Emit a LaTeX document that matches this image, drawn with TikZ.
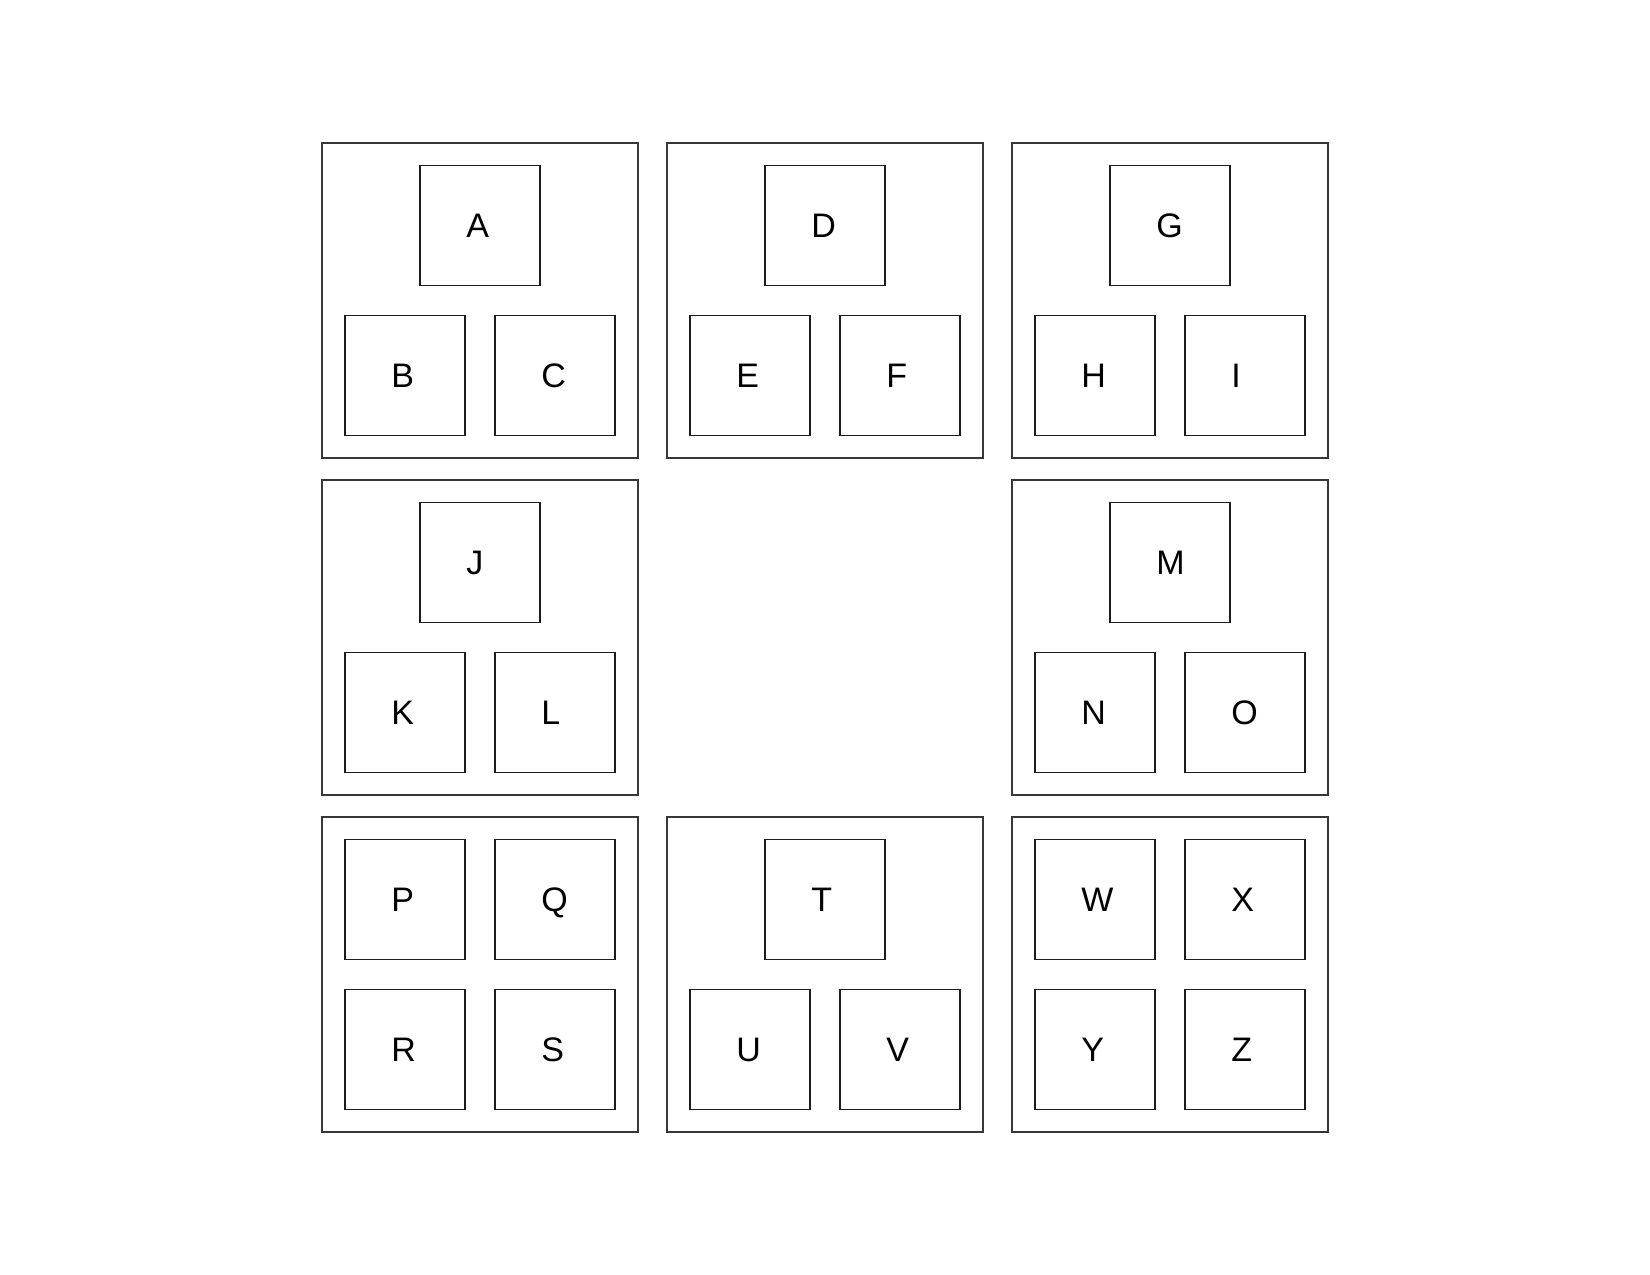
\documentclass[tikz,border=0pt]{standalone}
\usepackage{fontspec}
\setmainfont{Liberation Sans}
\begin{document}
\begin{tikzpicture}[x=1pt,y=-1pt,
  outerbox/.style={draw={rgb,255:red,55;green,55;blue,55},line width=1.8pt,minimum width=316pt,minimum height=315pt,inner sep=0pt},
  innerbox/.style={draw={rgb,255:red,28;green,28;blue,28},line width=1.5pt,minimum size=120pt,inner sep=0pt,font=\fontsize{34}{40}\selectfont,
    text width=27.4pt,align=left,text height=24.4pt,text depth=0pt}]
\useasboundingbox[fill=white] (0,0) rectangle (1650,1275);
% outer boxes
\node[outerbox] (g1) at (480,300.5) {};
\node[outerbox] (g2) at (825,300.5) {};
\node[outerbox] (g3) at (1170,300.5) {};
\node[outerbox] (g4) at (480,637.5) {};
\node[outerbox] (g6) at (1170,637.5) {};
\node[outerbox] (g7) at (480,974.5) {};
\node[outerbox] (g8) at (825,974.5) {};
\node[outerbox] (g9) at (1170,974.5) {};
% row 1
\node[innerbox] (A) at (480,225.5) {A};
\node[innerbox] (B) at (405,375.5) {B};
\node[innerbox] (C) at (555,375.5) {C};
\node[innerbox] (D) at (825,225.5) {D};
\node[innerbox] (E) at (750,375.5) {E};
\node[innerbox] (F) at (900,375.5) {F};
\node[innerbox] (G) at (1170,225.5) {G};
\node[innerbox] (H) at (1095,375.5) {H};
\node[innerbox] (I) at (1245,375.5) {I};
% row 2
\node[innerbox] (J) at (480,562.5) {J};
\node[innerbox] (K) at (405,712.5) {K};
\node[innerbox] (L) at (555,712.5) {L};
\node[innerbox] (M) at (1170,562.5) {M};
\node[innerbox] (N) at (1095,712.5) {N};
\node[innerbox] (O) at (1245,712.5) {O};
% row 3
\node[innerbox] (P) at (405,899.5) {P};
\node[innerbox] (Q) at (555,899.5) {Q};
\node[innerbox] (R) at (405,1049.5) {R};
\node[innerbox] (S) at (555,1049.5) {S};
\node[innerbox] (T) at (825,899.5) {T};
\node[innerbox] (U) at (750,1049.5) {U};
\node[innerbox] (V) at (900,1049.5) {V};
\node[innerbox] (W) at (1095,899.5) {W};
\node[innerbox] (X) at (1245,899.5) {X};
\node[innerbox] (Y) at (1095,1049.5) {Y};
\node[innerbox] (Z) at (1245,1049.5) {Z};
\end{tikzpicture}
\end{document}
